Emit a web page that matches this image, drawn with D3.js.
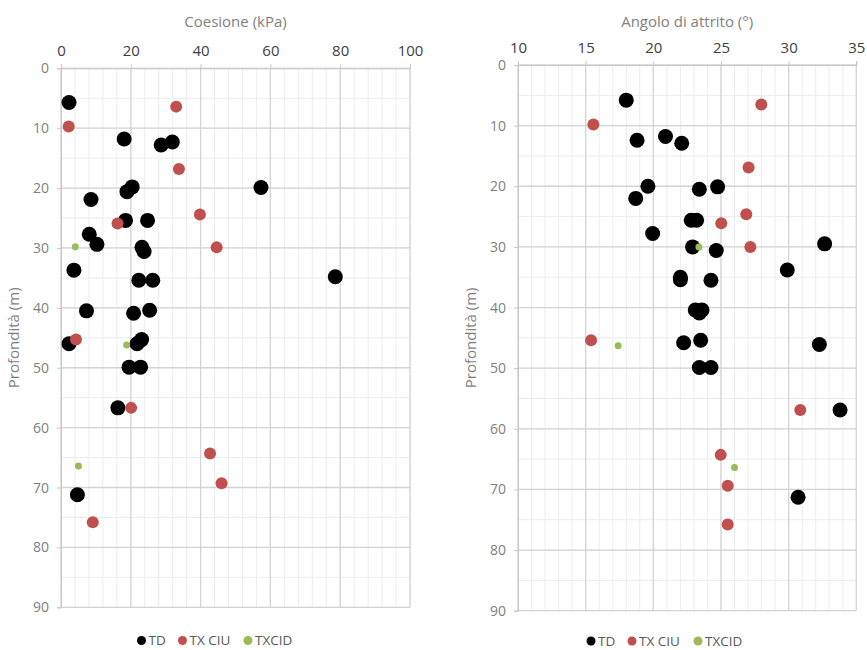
<!DOCTYPE html>
<html><head><meta charset="utf-8">
<script src="https://cdn.jsdelivr.net/npm/d3@7"></script>
<style>body{margin:0;background:#fff;} text{font-family:"Open Sans",sans-serif;}</style>
</head><body>
<svg id="chart" width="867" height="650"></svg>
<script>
// ---- Data: [value, depth (m)] ----
const tdCoesione = [[2.3,5.7],[18.1,11.8],[28.7,12.8],[31.9,12.3],[20.4,19.8],[18.9,20.6],[57.3,19.9],[8.6,21.9],[18.5,25.4],[24.8,25.4],[8.1,27.7],[10.3,29.4],[23.2,29.9],[23.8,30.6],[3.7,33.7],[22.3,35.4],[26.3,35.4],[78.6,34.8],[7.3,40.5],[20.8,40.9],[25.4,40.4],[2.3,46.0],[21.8,46.0],[23.1,45.3],[19.5,49.9],[22.8,49.9],[16.3,56.7],[4.7,71.2]];
const ciuCoesione = [[33.0,6.4],[2.2,9.7],[33.8,16.8],[39.8,24.4],[16.2,25.9],[44.6,29.9],[4.3,45.3],[20.1,56.7],[42.7,64.3],[46.0,69.3],[9.1,75.8]];
const cidCoesione = [[4.1,29.8],[18.8,46.2],[5.0,66.4]];

const tdAngolo = [[18.0,5.8],[18.8,12.4],[20.9,11.8],[22.1,12.9],[19.6,20.0],[23.4,20.5],[24.75,20.1],[18.7,22.0],[22.8,25.6],[23.2,25.6],[19.95,27.8],[22.9,30.0],[24.65,30.6],[32.66,29.5],[29.9,33.8],[22.0,35.0],[22.0,35.4],[24.26,35.5],[23.1,40.4],[23.6,40.4],[23.4,40.9],[22.24,45.8],[23.5,45.4],[32.27,46.1],[23.4,49.9],[24.26,49.9],[33.8,56.9],[30.7,71.3]];
const ciuAngolo = [[27.98,6.5],[15.57,9.8],[27.04,16.9],[26.87,24.6],[25.02,26.1],[27.17,30.0],[15.4,45.4],[30.86,56.9],[24.98,64.3],[25.5,69.4],[25.5,75.8]];
const cidAngolo = [[23.37,30.0],[17.4,46.3],[26.0,66.4]];

const seriesNames = ["TD","TX CIU","TXCID"];
const seriesColors = ["#000000","#c0504d","#9bbb59"];
const seriesRadius = [7.5,6,3.5];

const yTicks = [0,10,20,30,40,50,60,70,80,90];
const xTicksLeft = [0,20,40,60,80,100];
const xTicksRight = [10,15,20,25,30,35];

const svg = d3.select("#chart");

function panel(cfg){
  const g = svg.append("g");
  const x = d3.scaleLinear().domain(cfg.xDomain).range([cfg.x0,cfg.x1]);
  const y = d3.scaleLinear().domain([0,90]).range([cfg.y0,cfg.y1]);
  // minor grid
  g.append("g").selectAll("line").data(d3.range(cfg.xDomain[0],cfg.xDomain[1]+1e-9,cfg.xMinor))
    .join("line").attr("x1",d=>x(d)).attr("x2",d=>x(d)).attr("y1",cfg.y0).attr("y2",cfg.y1)
    .attr("stroke","#ececec").attr("stroke-width",1);
  g.append("g").selectAll("line").data(d3.range(0,91,5))
    .join("line").attr("y1",d=>y(d)).attr("y2",d=>y(d)).attr("x1",cfg.x0).attr("x2",cfg.x1)
    .attr("stroke","#ececec").attr("stroke-width",1);
  // major grid
  g.append("g").selectAll("line").data(cfg.xTicks)
    .join("line").attr("x1",d=>x(d)).attr("x2",d=>x(d)).attr("y1",cfg.y0).attr("y2",cfg.y1)
    .attr("stroke","#d4d4d4").attr("stroke-width",1.3);
  g.append("g").selectAll("line").data(yTicks)
    .join("line").attr("y1",d=>y(d)).attr("y2",d=>y(d)).attr("x1",cfg.x0).attr("x2",cfg.x1)
    .attr("stroke","#d4d4d4").attr("stroke-width",1.3);
  // axes
  const xa = g.append("g").attr("transform",`translate(0,${cfg.y0})`)
    .call(d3.axisTop(x).tickValues(cfg.xTicks).tickSize(4).tickPadding(8));
  xa.select(".domain").attr("stroke","#c8c8c8");
  xa.selectAll(".tick line").attr("stroke","#c8c8c8");
  xa.selectAll("text").attr("fill","#404040").attr("font-size",15).attr("font-family","Open Sans");
  const ya = g.append("g").attr("transform",`translate(${cfg.x0},0)`)
    .call(d3.axisLeft(y).tickValues(yTicks).tickSize(4).tickPadding(8));
  ya.select(".domain").attr("stroke","#c8c8c8");
  ya.selectAll(".tick line").attr("stroke","#c8c8c8");
  ya.selectAll("text").attr("fill","#808080").attr("font-size",14).attr("font-family","Open Sans");
  // titles
  g.append("text").attr("x",(cfg.x0+cfg.x1)/2).attr("y",cfg.titleY).attr("text-anchor","middle")
    .attr("fill","#7f7f7f").attr("font-size",15).text(cfg.title);
  g.append("text").attr("transform",`translate(${cfg.yTitleX},${(cfg.y0+cfg.y1)/2}) rotate(-90)`)
    .attr("text-anchor","middle").attr("fill","#7f7f7f").attr("font-size",15).text("Profondità (m)");
  // points
  cfg.series.forEach((s,i)=>{
    g.append("g").selectAll("circle").data(s).join("circle")
      .attr("cx",d=>x(d[0])).attr("cy",d=>y(d[1])).attr("r",seriesRadius[i])
      .attr("fill",seriesColors[i]);
  });
  // legend
  const lg = g.append("g");
  cfg.legendX.forEach((lx,i)=>{
    lg.append("circle").attr("cx",lx).attr("cy",cfg.legendY).attr("r",4.5).attr("fill",seriesColors[i]);
    lg.append("text").attr("x",lx+7).attr("y",cfg.legendY).attr("dy","0.35em")
      .attr("fill","#595959").attr("font-size",13.5).text(seriesNames[i]);
  });
}

panel({xDomain:[0,100],x0:61,x1:410,y0:68.3,y1:607.3,xTicks:xTicksLeft,xMinor:4,
  title:"Coesione (kPa)",titleY:27,yTitleX:19,
  series:[tdCoesione,ciuCoesione,cidCoesione],legendX:[141.5,182.5,248],legendY:640.5});
panel({xDomain:[10,35],x0:518,x1:856.3,y0:65,y1:610.7,xTicks:xTicksRight,xMinor:1,
  title:"Angolo di attrito (°)",titleY:27,yTitleX:476,
  series:[tdAngolo,ciuAngolo,cidAngolo],legendX:[591,632,698],legendY:641});
</script>
</body></html>
